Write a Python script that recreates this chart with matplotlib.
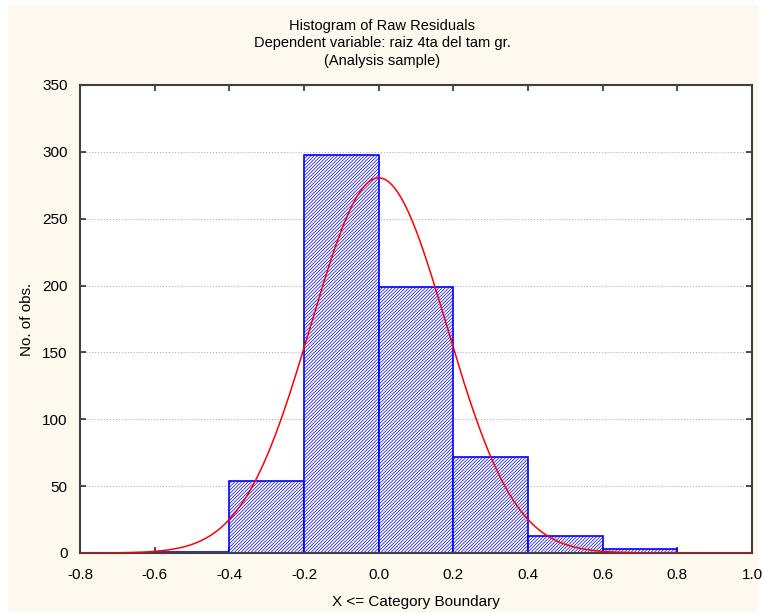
import numpy as np
import matplotlib
matplotlib.use('Agg')
import matplotlib.pyplot as plt
from matplotlib.patches import Rectangle

plt.rcParams['font.family'] = ['Liberation Sans', 'DejaVu Sans']
plt.rcParams['hatch.color'] = '#3535ff'
plt.rcParams['hatch.linewidth'] = 0.5

# histogram of residuals
bin_edges = [-0.8, -0.6, -0.4, -0.2, 0.0, 0.2, 0.4, 0.6, 0.8, 1.0]
counts = [0, 1, 54, 298, 199, 72, 13, 3, 0]
fit_mean = 0.0
fit_sd = 0.182

y_ticks = [0, 50, 100, 150, 200, 250, 300, 350]
x_ticks = [-0.8, -0.6, -0.4, -0.2, 0.0, 0.2, 0.4, 0.6, 0.8, 1.0]

bg = '#fdf9ee'
fig = plt.figure(figsize=(7.64, 6.12), dpi=100, facecolor='white')
# cream panel, with thin white border on top/left/right like the original export
fig.patches.append(Rectangle((8 / 764, 0), 750 / 764, 607 / 612, transform=fig.transFigure,
                             facecolor=bg, edgecolor='none', zorder=-10))

ax = fig.add_axes([80 / 764, 1 - 553 / 612, 672 / 764, 468 / 612])
ax.set_facecolor('white')

lefts = np.array(bin_edges[:-1])
widths = np.diff(bin_edges)
ax.bar(lefts, counts, width=widths, align='edge', facecolor='white',
       edgecolor='#0000ff', hatch='//////////', linewidth=1.2, zorder=2)

n_total = sum(counts)
bw = bin_edges[1] - bin_edges[0]
xs = np.linspace(bin_edges[0], bin_edges[-1], 400)
ys = n_total * bw / (fit_sd * np.sqrt(2 * np.pi)) * np.exp(-0.5 * ((xs - fit_mean) / fit_sd) ** 2)
ax.plot(xs, ys, color='#ff0000', linewidth=1.1, zorder=3)

ax.set_xlim(bin_edges[0], bin_edges[-1])
ax.set_ylim(0, 350)
ax.set_xticks(x_ticks)
ax.set_xticklabels(['%.1f' % t for t in x_ticks])
ax.set_yticks(y_ticks)
ax.tick_params(direction='in', labelsize=11, length=4, width=1.2, color='#303030',
               top=True, right=True)
ax.tick_params(axis='x', pad=11)
ax.tick_params(axis='y', pad=9)
ax.yaxis.grid(True, linestyle=':', color='#b0b0b0', linewidth=0.8, zorder=0)
ax.set_axisbelow(True)
for s in ax.spines.values():
    s.set_color('#404040')
    s.set_linewidth(1.5)

ax.set_xlabel('X <= Category Boundary', fontsize=11, labelpad=9)
ax.set_ylabel('No. of obs.', fontsize=11, labelpad=6)
fig.text(0.5, 1 - 19 / 612, 'Histogram of Raw Residuals\nDependent variable: raiz 4ta del tam gr.\n(Analysis sample)',
         ha='center', va='top', fontsize=10.5, linespacing=1.3)

fig.savefig('out.png', dpi=100, facecolor='white')
